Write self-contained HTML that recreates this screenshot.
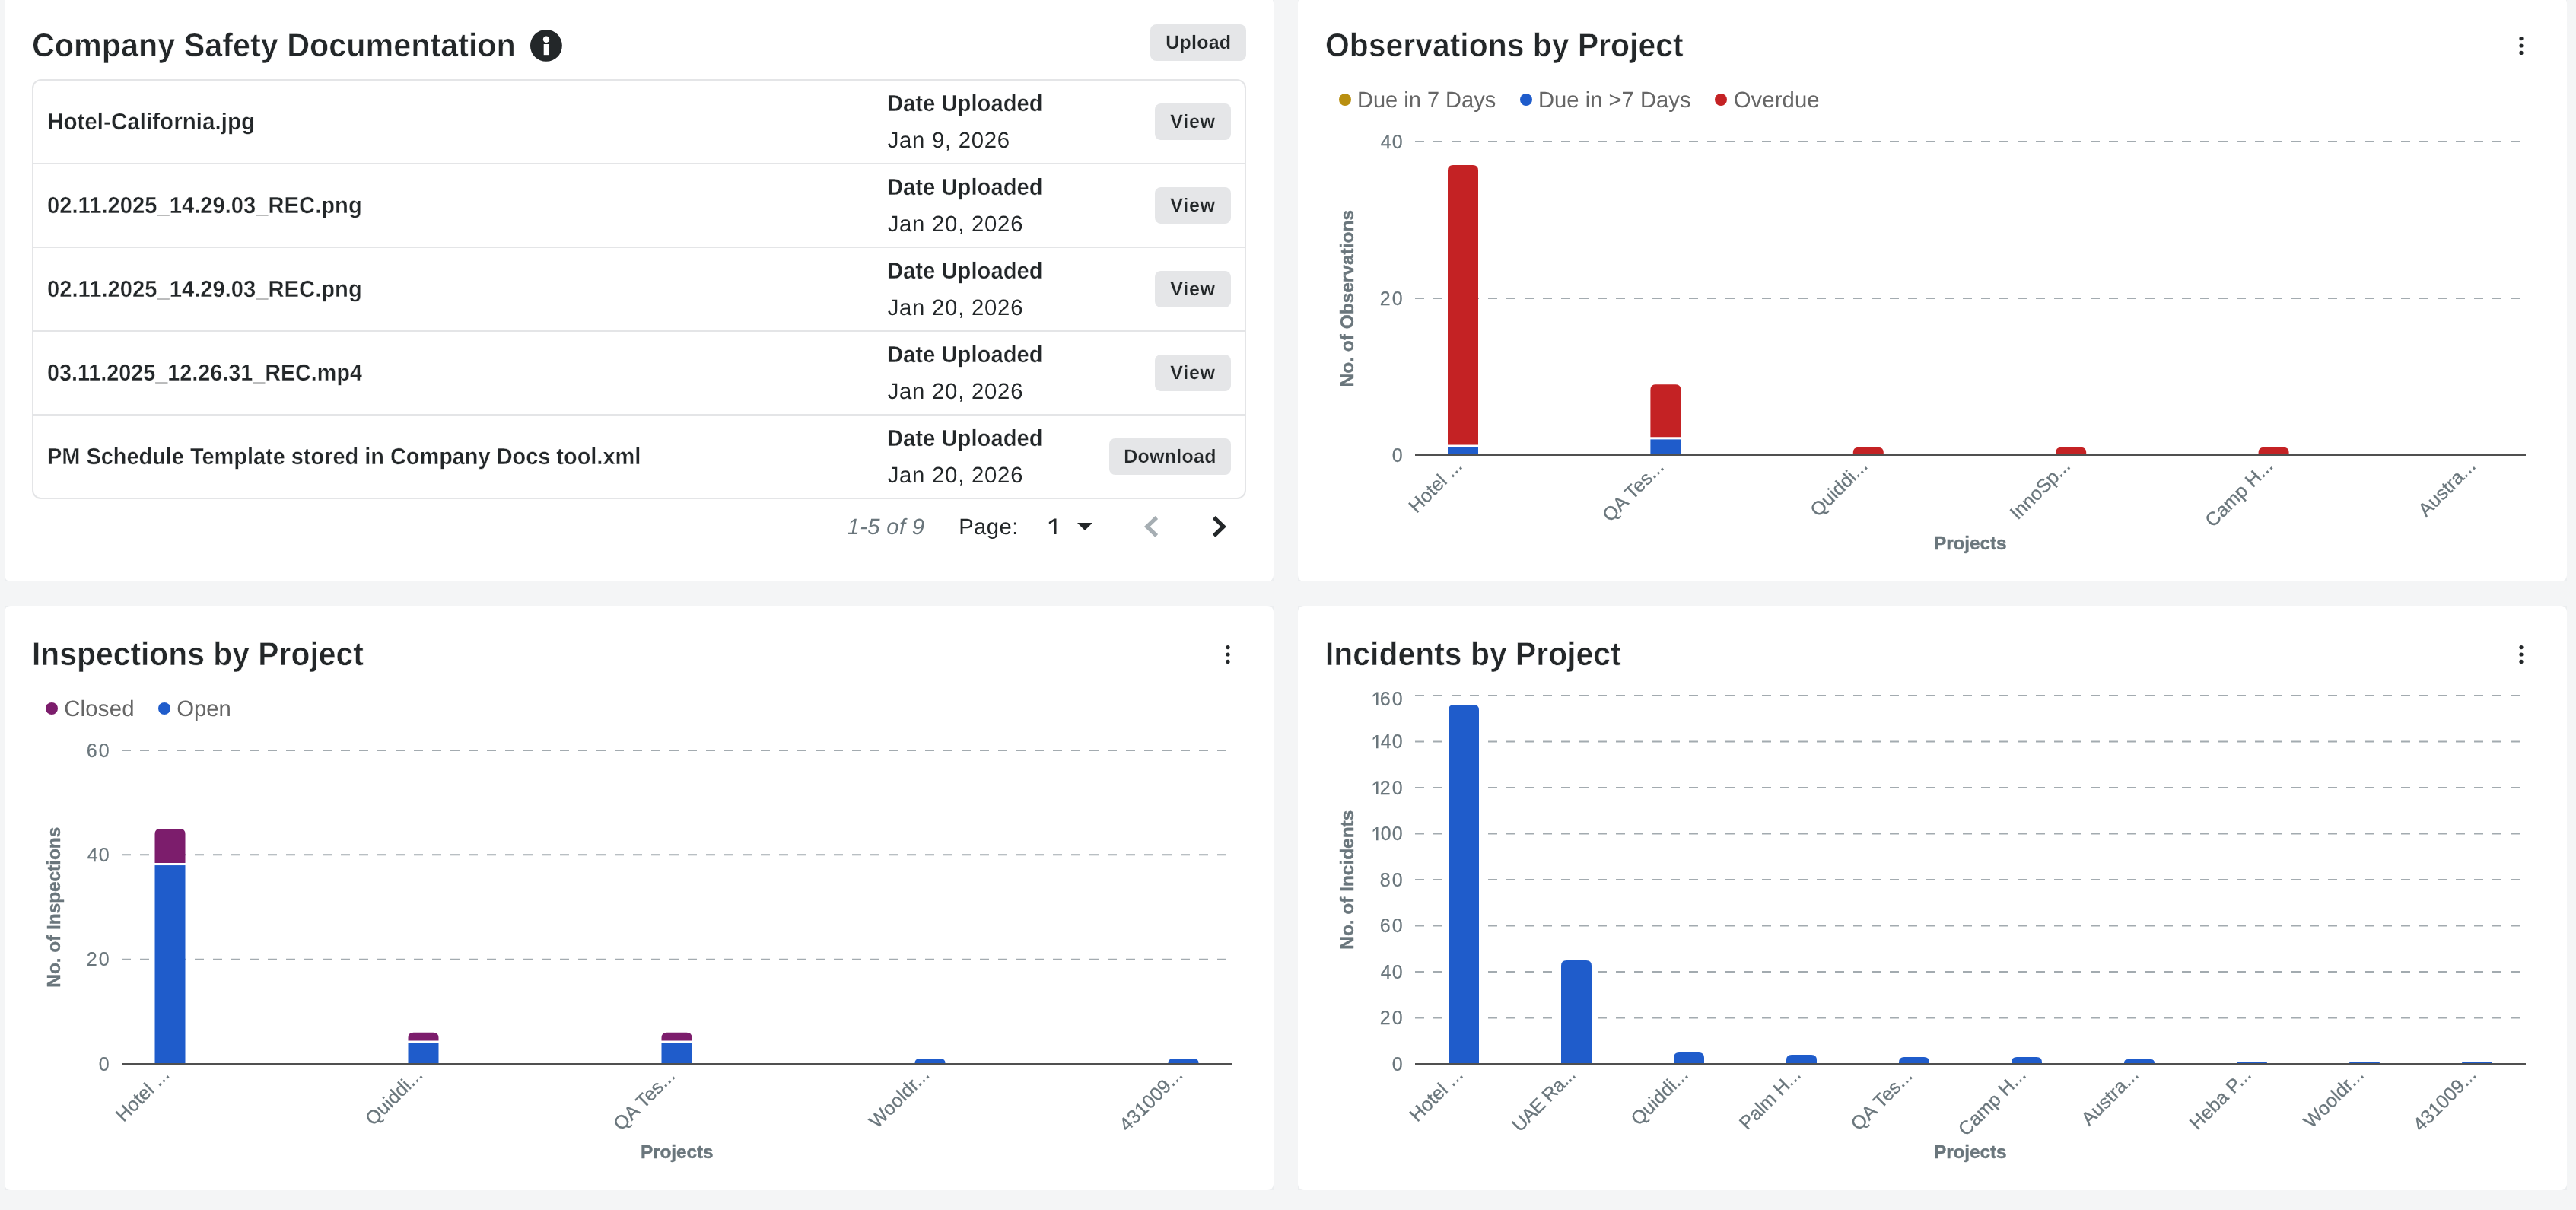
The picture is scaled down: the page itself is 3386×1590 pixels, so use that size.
<!DOCTYPE html>
<html lang="en"><head><meta charset="utf-8"><title>Safety Dashboard</title>
<style>
html,body{margin:0;padding:0}
body{width:3386px;height:1590px;position:relative;background:#f4f5f6;
 font-family:"Liberation Sans",sans-serif;color:#232729;-webkit-font-smoothing:antialiased}
.card{position:absolute;width:1668px;height:768px;background:#fff;border-radius:8px}
#root{position:absolute;left:0;top:0;width:3386px;height:1590px;overflow:hidden;will-change:transform}
.cardbg{position:absolute;width:1668px;height:768px;background:#eceef0}
.abs{position:absolute}
.t{position:absolute;white-space:pre;margin:0;transform-origin:0 0;text-rendering:geometricPrecision}
.dot{position:absolute;width:16.1px;height:16.1px;border-radius:50%;display:block}
.tbl{position:absolute;left:42px;top:104px;width:1592px;height:548px;border:2px solid #e4e5e7;border-radius:12px}
.hr{position:absolute;left:44px;width:1592px;height:2px;background:#e4e5e7}
.btn{position:absolute;height:48px;border-radius:8px;background:#e5e6e8}
svg{position:absolute;left:0;top:0;overflow:visible}
svg text{font-family:"Liberation Sans",sans-serif}
</style></head><body>
<main id="root">

<div class="cardbg" style="left:6px;top:-4px"></div><section class="card" style="left:6px;top:-4px"></section>
<div class="cardbg" style="left:1706px;top:-4px"></div><section class="card" style="left:1706px;top:-4px"></section>
<div class="cardbg" style="left:6px;top:796px"></div><section class="card" style="left:6px;top:796px"></section>
<div class="cardbg" style="left:1706px;top:796px"></div><section class="card" style="left:1706px;top:796px"></section>
<!-- Company Safety Documentation -->
<span class="t" style="left:42.03px;top:34.30px;font-size:43.4px;line-height:52px;color:#232729;font-weight:700;-webkit-text-stroke:0.6px #ffffff;transform:scaleX(0.9521);">Company Safety Documentation</span>
<svg class="abs" style="left:696px;top:38px" width="44" height="44" viewBox="696 38 44 44"><circle cx="717.9" cy="59.9" r="20.95" fill="#232729"/><rect x="714.7" y="58" width="6.5" height="14.2" fill="#fff"/><circle cx="718" cy="51.8" r="4.2" fill="#fff"/></svg>
<div class="btn" style="left:1512px;top:32px;width:126px"></div>
<span class="t" style="left:1532.36px;top:41.30px;font-size:25px;line-height:30px;color:#232729;font-weight:700;-webkit-text-stroke:0.2px #e5e6e8;letter-spacing:0.197px;">Upload</span>
<div class="tbl"></div>
<span class="t" style="left:61.85px;top:141.80px;font-size:30.5px;line-height:37px;color:#232729;font-weight:700;-webkit-text-stroke:0.35px #ffffff;transform:scaleX(0.9708);">Hotel-California.jpg</span>
<span class="t" style="left:1166.19px;top:117.80px;font-size:30.5px;line-height:37px;color:#232729;font-weight:700;-webkit-text-stroke:0.35px #ffffff;transform:scaleX(0.9581);">Date Uploaded</span>
<span class="t" style="left:1166.66px;top:167.30px;font-size:29.3px;line-height:35px;color:#232729;letter-spacing:0.726px;">Jan 9, 2026</span>
<div class="btn" style="left:1518px;top:136px;width:100px"></div>
<span class="t" style="left:1538.22px;top:145.30px;font-size:25px;line-height:30px;color:#232729;font-weight:700;-webkit-text-stroke:0.2px #e5e6e8;letter-spacing:0.762px;">View</span>
<div class="hr" style="top:214px"></div>
<span class="t" style="left:61.56px;top:251.80px;font-size:30.5px;line-height:37px;color:#232729;font-weight:700;-webkit-text-stroke:0.35px #ffffff;transform:scaleX(0.9569);">02.11.2025_14.29.03_REC.png</span>
<span class="t" style="left:1166.19px;top:227.80px;font-size:30.5px;line-height:37px;color:#232729;font-weight:700;-webkit-text-stroke:0.35px #ffffff;transform:scaleX(0.9581);">Date Uploaded</span>
<span class="t" style="left:1166.66px;top:277.30px;font-size:29.3px;line-height:35px;color:#232729;letter-spacing:0.760px;">Jan 20, 2026</span>
<div class="btn" style="left:1518px;top:246px;width:100px"></div>
<span class="t" style="left:1538.22px;top:255.30px;font-size:25px;line-height:30px;color:#232729;font-weight:700;-webkit-text-stroke:0.2px #e5e6e8;letter-spacing:0.762px;">View</span>
<div class="hr" style="top:324px"></div>
<span class="t" style="left:61.56px;top:361.80px;font-size:30.5px;line-height:37px;color:#232729;font-weight:700;-webkit-text-stroke:0.35px #ffffff;transform:scaleX(0.9569);">02.11.2025_14.29.03_REC.png</span>
<span class="t" style="left:1166.19px;top:337.80px;font-size:30.5px;line-height:37px;color:#232729;font-weight:700;-webkit-text-stroke:0.35px #ffffff;transform:scaleX(0.9581);">Date Uploaded</span>
<span class="t" style="left:1166.66px;top:387.30px;font-size:29.3px;line-height:35px;color:#232729;letter-spacing:0.760px;">Jan 20, 2026</span>
<div class="btn" style="left:1518px;top:356px;width:100px"></div>
<span class="t" style="left:1538.22px;top:365.30px;font-size:25px;line-height:30px;color:#232729;font-weight:700;-webkit-text-stroke:0.2px #e5e6e8;letter-spacing:0.762px;">View</span>
<div class="hr" style="top:434px"></div>
<span class="t" style="left:61.66px;top:471.80px;font-size:30.5px;line-height:37px;color:#232729;font-weight:700;-webkit-text-stroke:0.35px #ffffff;transform:scaleX(0.9425);">03.11.2025_12.26.31_REC.mp4</span>
<span class="t" style="left:1166.19px;top:447.80px;font-size:30.5px;line-height:37px;color:#232729;font-weight:700;-webkit-text-stroke:0.35px #ffffff;transform:scaleX(0.9581);">Date Uploaded</span>
<span class="t" style="left:1166.66px;top:497.30px;font-size:29.3px;line-height:35px;color:#232729;letter-spacing:0.760px;">Jan 20, 2026</span>
<div class="btn" style="left:1518px;top:466px;width:100px"></div>
<span class="t" style="left:1538.22px;top:475.30px;font-size:25px;line-height:30px;color:#232729;font-weight:700;-webkit-text-stroke:0.2px #e5e6e8;letter-spacing:0.762px;">View</span>
<div class="hr" style="top:544px"></div>
<span class="t" style="left:62.10px;top:581.80px;font-size:30.5px;line-height:37px;color:#232729;font-weight:700;-webkit-text-stroke:0.35px #ffffff;transform:scaleX(0.9479);">PM Schedule Template stored in Company Docs tool.xml</span>
<span class="t" style="left:1166.19px;top:557.80px;font-size:30.5px;line-height:37px;color:#232729;font-weight:700;-webkit-text-stroke:0.35px #ffffff;transform:scaleX(0.9581);">Date Uploaded</span>
<span class="t" style="left:1166.66px;top:607.30px;font-size:29.3px;line-height:35px;color:#232729;letter-spacing:0.760px;">Jan 20, 2026</span>
<div class="btn" style="left:1458px;top:576px;width:160px"></div>
<span class="t" style="left:1477.24px;top:585.30px;font-size:25px;line-height:30px;color:#232729;font-weight:700;-webkit-text-stroke:0.2px #e5e6e8;letter-spacing:0.248px;">Download</span>
<span class="t" style="left:1113.59px;top:675.30px;font-size:29.3px;line-height:35px;color:#6a767c;font-style:italic;letter-spacing:0.313px;">1-5 of 9</span>
<span class="t" style="left:1260.20px;top:675.30px;font-size:29.3px;line-height:35px;color:#232729;letter-spacing:0.388px;">Page:</span>
<svg class="abs" style="left:1376px;top:678px" width="16" height="28" viewBox="1376 678 16 28" role="img" aria-label="1"><path d="M1388.5,701.9V681.5H1385.8L1378.8,685.9V688.9L1385.6,684.8V701.9Z" fill="#232729"/></svg>
<svg class="abs" style="left:1416px;top:686.9px" width="20" height="11" viewBox="0 0 20 11"><path d="M0,0H20L10,10.1Z" fill="#232729"/></svg>
<svg class="abs" style="left:0;top:0" width="1674" height="764" viewBox="0 0 1674 764"><path d="M1520.3,680L1507.7,692L1520.3,704" fill="none" stroke="#a6aeb3" stroke-width="5.2" stroke-miterlimit="10"/><path d="M1595.7,680L1608.2,692L1595.7,704" fill="none" stroke="#232729" stroke-width="5.2" stroke-miterlimit="10"/></svg>
<!-- Observations by Project -->
<span class="t" style="left:1742.47px;top:34.30px;font-size:43.4px;line-height:52px;color:#232729;font-weight:700;-webkit-text-stroke:0.6px #ffffff;transform:scaleX(0.9427);">Observations by Project</span>
<svg class="abs" style="left:3302.1px;top:36.0px" width="24" height="48" viewBox="0 0 24 48"><circle cx="12" cy="14.6" r="2.6" fill="#232729"/><circle cx="12" cy="24" r="2.6" fill="#232729"/><circle cx="12" cy="33.4" r="2.6" fill="#232729"/></svg>
<i class="dot" style="left:1759.85px;top:122.85px;background:#b98f10"></i>
<span class="t" style="left:1783.97px;top:114.30px;font-size:29.3px;line-height:35px;color:#666666;transform:scaleX(0.9902);">Due in 7 Days</span>
<i class="dot" style="left:1997.85px;top:122.85px;background:#1f5ccb"></i>
<span class="t" style="left:2021.90px;top:114.30px;font-size:29.3px;line-height:35px;color:#666666;transform:scaleX(0.9969);">Due in &gt;7 Days</span>
<i class="dot" style="left:2254.05px;top:122.85px;background:#c42224"></i>
<span class="t" style="left:2278.74px;top:114.30px;font-size:29.3px;line-height:35px;color:#666666;letter-spacing:0.085px;">Overdue</span>
<!-- Inspections by Project -->
<span class="t" style="left:42.13px;top:834.30px;font-size:43.4px;line-height:52px;color:#232729;font-weight:700;-webkit-text-stroke:0.6px #ffffff;transform:scaleX(0.9413);">Inspections by Project</span>
<svg class="abs" style="left:1602.1px;top:836.0px" width="24" height="48" viewBox="0 0 24 48"><circle cx="12" cy="14.6" r="2.6" fill="#232729"/><circle cx="12" cy="24" r="2.6" fill="#232729"/><circle cx="12" cy="33.4" r="2.6" fill="#232729"/></svg>
<i class="dot" style="left:59.95px;top:922.85px;background:#7c1d6c"></i>
<span class="t" style="left:84.15px;top:914.30px;font-size:29.3px;line-height:35px;color:#666666;letter-spacing:0.245px;">Closed</span>
<i class="dot" style="left:207.85px;top:922.85px;background:#1f5ccb"></i>
<span class="t" style="left:232.18px;top:914.30px;font-size:29.3px;line-height:35px;color:#666666;letter-spacing:0.005px;">Open</span>
<!-- Incidents by Project -->
<span class="t" style="left:1741.61px;top:834.30px;font-size:43.4px;line-height:52px;color:#232729;font-weight:700;-webkit-text-stroke:0.6px #ffffff;transform:scaleX(0.9427);">Incidents by Project</span>
<svg class="abs" style="left:3302.1px;top:836.0px" width="24" height="48" viewBox="0 0 24 48"><circle cx="12" cy="14.6" r="2.6" fill="#232729"/><circle cx="12" cy="24" r="2.6" fill="#232729"/><circle cx="12" cy="33.4" r="2.6" fill="#232729"/></svg>
<svg width="3386" height="1590" viewBox="0 0 3386 1590">
<g id="chart-observations">
<text x="1829.80" y="606.80" font-size="25" fill="#6a767c" stroke="#6a767c" stroke-width="0.25">0</text>
<line x1="1860" x2="3312" y1="392.00" y2="392.00" stroke="#a3abb0" stroke-width="2" stroke-dasharray="12 12"/>
<text x="1813.80" y="400.80" font-size="25" fill="#6a767c" stroke="#6a767c" stroke-width="0.25" letter-spacing="2.096">20</text>
<line x1="1860" x2="3312" y1="186.00" y2="186.00" stroke="#a3abb0" stroke-width="2" stroke-dasharray="12 12"/>
<text x="1814.80" y="194.80" font-size="25" fill="#6a767c" stroke="#6a767c" stroke-width="0.25" letter-spacing="1.096">40</text>
<rect x="1903.00" y="587.70" width="40" height="9.30" fill="#1f5ccb"/>
<path d="M1903.00,584.60V223.90Q1903.00,216.90 1910.00,216.90H1936.00Q1943.00,216.90 1943.00,223.90V584.60Z" fill="#c42224"/>
<rect x="2169.40" y="577.40" width="40" height="19.60" fill="#1f5ccb"/>
<path d="M2169.40,574.30V512.30Q2169.40,505.30 2176.40,505.30H2202.40Q2209.40,505.30 2209.40,512.30V574.30Z" fill="#c42224"/>
<path d="M2435.80,597.00V594.70Q2435.80,587.70 2442.80,587.70H2468.80Q2475.80,587.70 2475.80,594.70V597.00Z" fill="#c42224"/>
<path d="M2702.20,597.00V594.70Q2702.20,587.70 2709.20,587.70H2735.20Q2742.20,587.70 2742.20,594.70V597.00Z" fill="#c42224"/>
<path d="M2968.60,597.00V594.70Q2968.60,587.70 2975.60,587.70H3001.60Q3008.60,587.70 3008.60,594.70V597.00Z" fill="#c42224"/>
<rect x="1860" y="597" width="1460" height="2" fill="#505050"/>
<text x="1837.00" y="615.20" font-size="25" fill="#6a767c" stroke="#6a767c" stroke-width="0.3" letter-spacing="0.100" transform="rotate(-45 1922.00 615.20)">Hotel ...</text>
<text x="2086.74" y="615.20" font-size="25" fill="#6a767c" stroke="#6a767c" stroke-width="0.3" letter-spacing="0.100" transform="rotate(-45 2188.40 615.20)">QA Tes...</text>
<text x="2362.84" y="615.20" font-size="25" fill="#6a767c" stroke="#6a767c" stroke-width="0.3" letter-spacing="0.100" transform="rotate(-45 2454.80 615.20)">Quiddi...</text>
<text x="2623.87" y="615.20" font-size="25" fill="#6a767c" stroke="#6a767c" stroke-width="0.3" letter-spacing="-0.100" transform="rotate(-45 2721.20 615.20)">InnoSp...</text>
<text x="2876.22" y="615.20" font-size="25" fill="#6a767c" stroke="#6a767c" stroke-width="0.3" letter-spacing="0.100" transform="rotate(-45 2987.60 615.20)">Camp H...</text>
<text x="3162.05" y="615.20" font-size="25" fill="#6a767c" stroke="#6a767c" stroke-width="0.3" letter-spacing="0.100" transform="rotate(-45 3254.00 615.20)">Austra...</text>
<text x="2542.00" y="722.10" font-size="24.4" fill="#6a767c" font-weight="700" stroke="#6a767c" stroke-width="0.4" letter-spacing="-0.098">Projects</text>
<text x="1662.60" y="392.00" font-size="24.4" fill="#6a767c" font-weight="700" stroke="#6a767c" stroke-width="0.4" letter-spacing="0.034" transform="rotate(-90 1779.00 392.00)">No. of Observations</text>
</g><g id="chart-inspections">
<text x="129.80" y="1406.80" font-size="25" fill="#6a767c" stroke="#6a767c" stroke-width="0.25">0</text>
<line x1="160" x2="1612" y1="1260.67" y2="1260.67" stroke="#a3abb0" stroke-width="2" stroke-dasharray="12 12"/>
<text x="113.80" y="1269.47" font-size="25" fill="#6a767c" stroke="#6a767c" stroke-width="0.25" letter-spacing="2.096">20</text>
<line x1="160" x2="1612" y1="1123.33" y2="1123.33" stroke="#a3abb0" stroke-width="2" stroke-dasharray="12 12"/>
<text x="114.80" y="1132.13" font-size="25" fill="#6a767c" stroke="#6a767c" stroke-width="0.25" letter-spacing="1.096">40</text>
<line x1="160" x2="1612" y1="986.00" y2="986.00" stroke="#a3abb0" stroke-width="2" stroke-dasharray="12 12"/>
<text x="113.80" y="994.80" font-size="25" fill="#6a767c" stroke="#6a767c" stroke-width="0.25" letter-spacing="2.096">60</text>
<rect x="203.50" y="1137.07" width="40" height="259.93" fill="#1f5ccb"/>
<path d="M203.50,1133.97V1096.00Q203.50,1089.00 210.50,1089.00H236.50Q243.50,1089.00 243.50,1096.00V1133.97Z" fill="#7c1d6c"/>
<rect x="536.50" y="1370.53" width="40" height="26.47" fill="#1f5ccb"/>
<path d="M536.50,1367.43V1363.80Q536.50,1356.80 543.50,1356.80H569.50Q576.50,1356.80 576.50,1363.80V1367.43Z" fill="#7c1d6c"/>
<rect x="869.50" y="1370.53" width="40" height="26.47" fill="#1f5ccb"/>
<path d="M869.50,1367.43V1363.80Q869.50,1356.80 876.50,1356.80H902.50Q909.50,1356.80 909.50,1363.80V1367.43Z" fill="#7c1d6c"/>
<path d="M1202.50,1397.00V1397.00Q1202.50,1391.13 1208.37,1391.13H1236.63Q1242.50,1391.13 1242.50,1397.00V1397.00Z" fill="#1f5ccb"/>
<path d="M1535.50,1397.00V1397.00Q1535.50,1391.13 1541.37,1391.13H1569.63Q1575.50,1391.13 1575.50,1397.00V1397.00Z" fill="#1f5ccb"/>
<rect x="160" y="1397" width="1460" height="2" fill="#505050"/>
<text x="137.50" y="1415.20" font-size="25" fill="#6a767c" stroke="#6a767c" stroke-width="0.3" letter-spacing="0.100" transform="rotate(-45 222.50 1415.20)">Hotel ...</text>
<text x="463.54" y="1415.20" font-size="25" fill="#6a767c" stroke="#6a767c" stroke-width="0.3" letter-spacing="0.100" transform="rotate(-45 555.50 1415.20)">Quiddi...</text>
<text x="786.84" y="1415.20" font-size="25" fill="#6a767c" stroke="#6a767c" stroke-width="0.3" letter-spacing="0.100" transform="rotate(-45 888.50 1415.20)">QA Tes...</text>
<text x="1124.45" y="1415.20" font-size="25" fill="#6a767c" stroke="#6a767c" stroke-width="0.3" letter-spacing="0.100" transform="rotate(-45 1221.50 1415.20)">Wooldr...</text>
<text x="1451.39" y="1415.20" font-size="25" fill="#6a767c" stroke="#6a767c" stroke-width="0.3" letter-spacing="0.100" transform="rotate(-45 1554.50 1415.20)">431009...</text>
<text x="842.00" y="1522.10" font-size="24.4" fill="#6a767c" font-weight="700" stroke="#6a767c" stroke-width="0.4" letter-spacing="-0.098">Projects</text>
<text x="-26.70" y="1192.00" font-size="24.4" fill="#6a767c" font-weight="700" stroke="#6a767c" stroke-width="0.4" letter-spacing="-0.025" transform="rotate(-90 79.00 1192.00)">No. of Inspections</text>
</g><g id="chart-incidents">
<text x="1829.80" y="1406.80" font-size="25" fill="#6a767c" stroke="#6a767c" stroke-width="0.25">0</text>
<line x1="1860" x2="3312" y1="1337.50" y2="1337.50" stroke="#a3abb0" stroke-width="2" stroke-dasharray="12 12"/>
<text x="1813.80" y="1346.30" font-size="25" fill="#6a767c" stroke="#6a767c" stroke-width="0.25" letter-spacing="2.096">20</text>
<line x1="1860" x2="3312" y1="1277.00" y2="1277.00" stroke="#a3abb0" stroke-width="2" stroke-dasharray="12 12"/>
<text x="1814.80" y="1285.80" font-size="25" fill="#6a767c" stroke="#6a767c" stroke-width="0.25" letter-spacing="1.096">40</text>
<line x1="1860" x2="3312" y1="1216.50" y2="1216.50" stroke="#a3abb0" stroke-width="2" stroke-dasharray="12 12"/>
<text x="1813.80" y="1225.30" font-size="25" fill="#6a767c" stroke="#6a767c" stroke-width="0.25" letter-spacing="2.096">60</text>
<line x1="1860" x2="3312" y1="1156.00" y2="1156.00" stroke="#a3abb0" stroke-width="2" stroke-dasharray="12 12"/>
<text x="1813.80" y="1164.80" font-size="25" fill="#6a767c" stroke="#6a767c" stroke-width="0.25" letter-spacing="2.096">80</text>
<line x1="1860" x2="3312" y1="1095.50" y2="1095.50" stroke="#a3abb0" stroke-width="2" stroke-dasharray="12 12"/>
<text x="1814.80" y="1104.30" font-size="25" fill="#6a767c" stroke="#6a767c" stroke-width="0.25" letter-spacing="1.096">00</text>
<path d="M1811.50,1104.30V1086.90H1809.20L1804.60,1090.70V1093.20L1809.00,1089.70V1104.30Z" fill="#6a767c"/>
<line x1="1860" x2="3312" y1="1035.00" y2="1035.00" stroke="#a3abb0" stroke-width="2" stroke-dasharray="12 12"/>
<text x="1813.80" y="1043.80" font-size="25" fill="#6a767c" stroke="#6a767c" stroke-width="0.25" letter-spacing="2.096">20</text>
<path d="M1811.50,1043.80V1026.40H1809.20L1804.60,1030.20V1032.70L1809.00,1029.20V1043.80Z" fill="#6a767c"/>
<line x1="1860" x2="3312" y1="974.50" y2="974.50" stroke="#a3abb0" stroke-width="2" stroke-dasharray="12 12"/>
<text x="1814.80" y="983.30" font-size="25" fill="#6a767c" stroke="#6a767c" stroke-width="0.25" letter-spacing="1.096">40</text>
<path d="M1811.50,983.30V965.90H1809.20L1804.60,969.70V972.20L1809.00,968.70V983.30Z" fill="#6a767c"/>
<line x1="1860" x2="3312" y1="914.00" y2="914.00" stroke="#a3abb0" stroke-width="2" stroke-dasharray="12 12"/>
<text x="1813.80" y="926.80" font-size="25" fill="#6a767c" stroke="#6a767c" stroke-width="0.25" letter-spacing="2.096">60</text>
<path d="M1811.50,926.80V909.40H1809.20L1804.60,913.20V915.70L1809.00,912.20V926.80Z" fill="#6a767c"/>
<path d="M1904.00,1397.00V933.10Q1904.00,926.10 1911.00,926.10H1937.00Q1944.00,926.10 1944.00,933.10V1397.00Z" fill="#1f5ccb"/>
<path d="M2052.00,1397.00V1268.88Q2052.00,1261.88 2059.00,1261.88H2085.00Q2092.00,1261.88 2092.00,1268.88V1397.00Z" fill="#1f5ccb"/>
<path d="M2200.00,1397.00V1389.88Q2200.00,1382.88 2207.00,1382.88H2233.00Q2240.00,1382.88 2240.00,1389.88V1397.00Z" fill="#1f5ccb"/>
<path d="M2348.00,1397.00V1392.90Q2348.00,1385.90 2355.00,1385.90H2381.00Q2388.00,1385.90 2388.00,1392.90V1397.00Z" fill="#1f5ccb"/>
<path d="M2496.00,1397.00V1395.92Q2496.00,1388.92 2503.00,1388.92H2529.00Q2536.00,1388.92 2536.00,1395.92V1397.00Z" fill="#1f5ccb"/>
<path d="M2644.00,1397.00V1395.92Q2644.00,1388.92 2651.00,1388.92H2677.00Q2684.00,1388.92 2684.00,1395.92V1397.00Z" fill="#1f5ccb"/>
<path d="M2792.00,1397.00V1397.00Q2792.00,1391.95 2797.05,1391.95H2826.95Q2832.00,1391.95 2832.00,1397.00V1397.00Z" fill="#1f5ccb"/>
<path d="M2940.00,1397.00V1397.00Q2940.00,1394.97 2942.03,1394.97H2977.97Q2980.00,1394.97 2980.00,1397.00V1397.00Z" fill="#1f5ccb"/>
<path d="M3088.00,1397.00V1397.00Q3088.00,1394.97 3090.03,1394.97H3125.97Q3128.00,1394.97 3128.00,1397.00V1397.00Z" fill="#1f5ccb"/>
<path d="M3236.00,1397.00V1397.00Q3236.00,1394.97 3238.03,1394.97H3273.97Q3276.00,1394.97 3276.00,1397.00V1397.00Z" fill="#1f5ccb"/>
<rect x="1860" y="1397" width="1460" height="2" fill="#505050"/>
<text x="1838.00" y="1415.20" font-size="25" fill="#6a767c" stroke="#6a767c" stroke-width="0.3" letter-spacing="0.100" transform="rotate(-45 1923.00 1415.20)">Hotel ...</text>
<text x="1967.40" y="1415.20" font-size="25" fill="#6a767c" stroke="#6a767c" stroke-width="0.3" letter-spacing="-0.700" transform="rotate(-45 2071.00 1415.20)">UAE Ra...</text>
<text x="2127.04" y="1415.20" font-size="25" fill="#6a767c" stroke="#6a767c" stroke-width="0.3" letter-spacing="0.100" transform="rotate(-45 2219.00 1415.20)">Quiddi...</text>
<text x="2267.35" y="1415.20" font-size="25" fill="#6a767c" stroke="#6a767c" stroke-width="0.3" letter-spacing="-0.150" transform="rotate(-45 2367.00 1415.20)">Palm H...</text>
<text x="2413.34" y="1415.20" font-size="25" fill="#6a767c" stroke="#6a767c" stroke-width="0.3" letter-spacing="0.100" transform="rotate(-45 2515.00 1415.20)">QA Tes...</text>
<text x="2551.62" y="1415.20" font-size="25" fill="#6a767c" stroke="#6a767c" stroke-width="0.3" letter-spacing="0.100" transform="rotate(-45 2663.00 1415.20)">Camp H...</text>
<text x="2719.05" y="1415.20" font-size="25" fill="#6a767c" stroke="#6a767c" stroke-width="0.3" letter-spacing="0.100" transform="rotate(-45 2811.00 1415.20)">Austra...</text>
<text x="2859.14" y="1415.20" font-size="25" fill="#6a767c" stroke="#6a767c" stroke-width="0.3" letter-spacing="0.100" transform="rotate(-45 2959.00 1415.20)">Heba P...</text>
<text x="3009.95" y="1415.20" font-size="25" fill="#6a767c" stroke="#6a767c" stroke-width="0.3" letter-spacing="0.100" transform="rotate(-45 3107.00 1415.20)">Wooldr...</text>
<text x="3151.89" y="1415.20" font-size="25" fill="#6a767c" stroke="#6a767c" stroke-width="0.3" letter-spacing="0.100" transform="rotate(-45 3255.00 1415.20)">431009...</text>
<text x="2542.00" y="1522.10" font-size="24.4" fill="#6a767c" font-weight="700" stroke="#6a767c" stroke-width="0.4" letter-spacing="-0.098">Projects</text>
<text x="1687.30" y="1156.00" font-size="24.4" fill="#6a767c" font-weight="700" stroke="#6a767c" stroke-width="0.4" transform="rotate(-90 1779.00 1156.00)">No. of Incidents</text>
</g></svg>
</main></body></html>
